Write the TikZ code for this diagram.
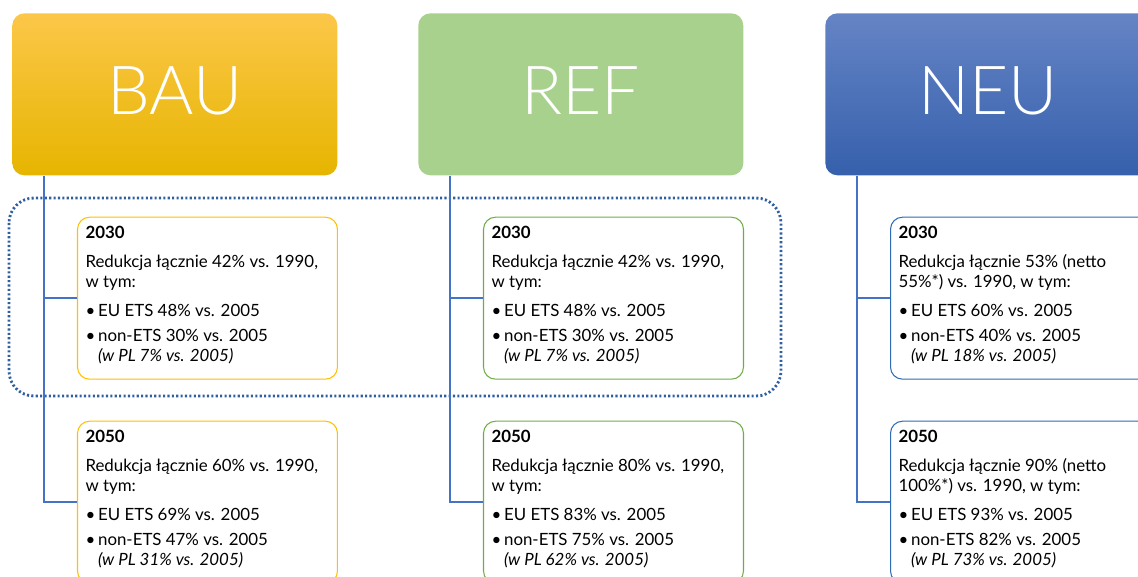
\documentclass[tikz,border=0pt]{standalone}
\usepackage{fontspec}
\setmainfont{Lato}
\IfFontExistsTF{Lato Light}{\newfontfamily\headfont{Lato Light}}{\newfontfamily\headfont{Lato}}
\usetikzlibrary{positioning}
\definecolor{bauc}{HTML}{FFC000}
\definecolor{baut}{HTML}{FCC749}
\definecolor{baum}{HTML}{FCC50A}
\definecolor{baub}{HTML}{E6B500}
\definecolor{reff}{HTML}{A9D18E}
\definecolor{refc}{HTML}{70AD47}
\definecolor{neut}{HTML}{6584C5}
\definecolor{neub}{HTML}{3660AC}
\definecolor{neuc}{HTML}{2E6DB4}
\definecolor{linkc}{HTML}{4472C4}
\definecolor{framec}{HTML}{2F5F9E}
\newcommand{\goal}[6]{\parbox[c][2.9cm][t]{4.88cm}{\raggedright
  \textbf{#1}\par\vspace{5pt}
  #2\\#3\par\vspace{5pt}
  \textbullet\,#4\par\vspace{2.5pt}
  \textbullet\,#5\\\phantom{\textbullet\,}\textit{(w PL #6)}}}
\begin{document}
\begin{tikzpicture}[x=0.02cm,y=-0.02cm]
  \tikzstyle{head}=[rounded corners=0.24cm, minimum width=6.5cm, minimum height=3.24cm,
    anchor=north west, text=white, text depth=0.16cm, font=\headfont\fontsize{38.5}{42}\selectfont]
  \tikzstyle{card}=[draw, rounded corners=0.24cm, fill=white, line width=0.6pt,
    inner xsep=0.16cm, inner ysep=0.17cm, font=\fontsize{9.6}{11.6}\selectfont]
  \tikzstyle{link}=[draw=linkc, line width=0.8pt]
  \tikzstyle{frame}=[draw=framec, line width=1.6pt, dash pattern=on 1.2pt off 1.3pt, rounded corners=0.5cm]
  \useasboundingbox (0,0) rectangle (1138,577);
  \clip (0,0) rectangle (1138,577);
  % headers
  \node[head, top color=baut, middle color=baum, bottom color=baub] (bau) at (12,13) {BAU};
  \node[head, fill=reff] (ref) at (418,13) {REF};
  \node[head, top color=neut, bottom color=neub] (neu) at (825,13) {NEU};
  % 2030 frame
  \draw[frame] (9,198) rectangle (781,396);
  % BAU
  \node[card, draw=bauc, below right=0.82cm and 1.3cm of bau.south west] (bau30)
    {\goal{2030}{Redukcja łącznie 42\% vs. 1990,}{w tym:}{EU ETS 48\% vs. 2005}{non-ETS 30\% vs. 2005}{7\% vs. 2005}};
  \node[card, draw=bauc, below=0.82cm of bau30] (bau50)
    {\goal{2050}{Redukcja łącznie 60\% vs. 1990,}{w tym:}{EU ETS 69\% vs. 2005}{non-ETS 47\% vs. 2005}{31\% vs. 2005}};
  % REF
  \node[card, draw=refc, below right=0.82cm and 1.3cm of ref.south west] (ref30)
    {\goal{2030}{Redukcja łącznie 42\% vs. 1990,}{w tym:}{EU ETS 48\% vs. 2005}{non-ETS 30\% vs. 2005}{7\% vs. 2005}};
  \node[card, draw=refc, below=0.82cm of ref30] (ref50)
    {\goal{2050}{Redukcja łącznie 80\% vs. 1990,}{w tym:}{EU ETS 83\% vs. 2005}{non-ETS 75\% vs. 2005}{62\% vs. 2005}};
  % NEU
  \node[card, draw=neuc, below right=0.82cm and 1.3cm of neu.south west] (neu30)
    {\goal{2030}{Redukcja łącznie 53\% (netto}{55\%*) vs. 1990, w tym:}{EU ETS 60\% vs. 2005}{non-ETS 40\% vs. 2005}{18\% vs. 2005}};
  \node[card, draw=neuc, below=0.82cm of neu30] (neu50)
    {\goal{2050}{Redukcja łącznie 90\% (netto}{100\%*) vs. 1990, w tym:}{EU ETS 93\% vs. 2005}{non-ETS 82\% vs. 2005}{73\% vs. 2005}};
  % connectors
  \foreach \s in {bau,ref,neu} {
    \draw[link] ([xshift=0.64cm]\s.south west) |- (\s30.west);
    \draw[link] ([xshift=0.64cm]\s.south west) |- (\s50.west);
  }
\end{tikzpicture}
\end{document}
